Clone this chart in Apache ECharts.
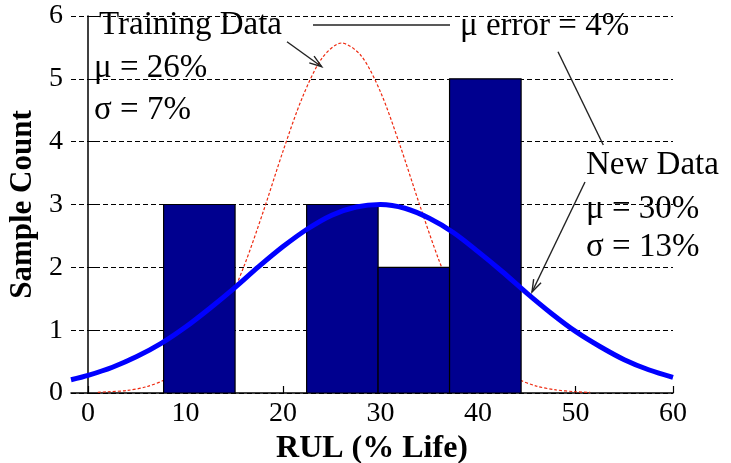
<!DOCTYPE html>
<html>
<head>
<meta charset="utf-8">
<script src="https://cdn.jsdelivr.net/npm/echarts@6/dist/echarts.min.js"></script>
<style>
html,body{margin:0;padding:0;background:#fff;}
#chart{width:731px;height:463px;}
</style>
</head>
<body>
<div id="chart"></div>
<script>
// Histogram of new data: bin edges (% life) and sample counts per bin
var binEdges = [7.75, 15.08, 22.42, 29.75, 37.08, 44.42];
var binCounts = [3, 0, 3, 2, 5];

// Fitted curve, new data (mu = 30%, sigma = 13%)
var newDataX = [-1.75, 0, 2.5, 5, 7.5, 10, 12.5, 15, 17.5, 20, 22.5, 25, 27.5, 30, 32.5, 35, 37.5, 40, 42.5, 45, 47.5, 50, 52.5, 55, 57.5, 60];
var newDataY = [0.21, 0.28, 0.41, 0.58, 0.79, 1.05, 1.35, 1.67, 2.01, 2.33, 2.61, 2.83, 2.96, 3.00, 2.94, 2.78, 2.55, 2.25, 1.93, 1.59, 1.27, 0.98, 0.74, 0.53, 0.37, 0.25];

// Fitted curve, training data (mu = 26%, sigma = 7%)
var trainX = [1, 2, 4, 6, 8, 10, 12, 14, 16, 18, 20, 22, 24, 26, 28, 30, 32, 34, 36, 38, 40, 42, 44, 46, 48, 50, 51.5];
var trainY = [0.01, 0.02, 0.04, 0.10, 0.22, 0.43, 0.78, 1.30, 2.02, 2.90, 3.85, 4.71, 5.33, 5.57, 5.37, 4.79, 3.94, 3.00, 2.11, 1.37, 0.82, 0.45, 0.23, 0.11, 0.05, 0.02, 0.01];

// Axis ticks
var xTicks = [0, 10, 20, 30, 40, 50, 60];
var yTicks = [0, 1, 2, 3, 4, 5, 6];

// Annotation texts
var trainingLabels = ['Training Data', 'μ = 26%', 'σ = 7%'];
var newLabels = ['New Data', 'μ = 30%', 'σ = 13%'];
var errorLabel = 'μ error = 4%';

var SERIF = "'Liberation Serif', 'Times New Roman', serif";
var chart = echarts.init(document.getElementById('chart'), null, {renderer: 'canvas'});

function pairs(xs, ys) { return xs.map(function (x, i) { return [x, ys[i]]; }); }
var binData = binCounts.map(function (c, i) { return [binEdges[i], binEdges[i + 1], c]; });

function textEl(str, x, y, size) {
  return {type: 'text', x: x, y: y, z: 200,
    style: {text: str, font: size + 'px ' + SERIF, fill: '#000', align: 'left', verticalAlign: 'middle'}};
}
function lineEl(x1, y1, x2, y2) {
  return {type: 'line', z: 150, shape: {x1: x1, y1: y1, x2: x2, y2: y2}, style: {stroke: '#222', lineWidth: 1.4}};
}
function headEl(x1, y1, x2, y2) {
  var a = Math.atan2(y2 - y1, x2 - x1), L = 13, w = 0.32;
  return {type: 'polyline', z: 150, shape: {points: [
    [x2 - L * Math.cos(a - w), y2 - L * Math.sin(a - w)], [x2, y2],
    [x2 - L * Math.cos(a + w), y2 - L * Math.sin(a + w)]]},
    style: {stroke: '#222', lineWidth: 1.4, fill: null}};
}

var graphics = [
  textEl(trainingLabels[0], 99, 25.5, 33),
  textEl(trainingLabels[1], 94, 68.5, 33),
  textEl(trainingLabels[2], 94, 110, 33),
  textEl(errorLabel, 460, 26, 33),
  textEl(newLabels[0], 586, 165, 33),
  textEl(newLabels[1], 586, 209, 33),
  textEl(newLabels[2], 586, 247.5, 33),
  lineEl(313, 25, 450, 25),
  lineEl(287, 41.7, 321.7, 66.7), headEl(287, 41.7, 321.7, 66.7),
  lineEl(558, 51.7, 603.3, 145),
  lineEl(585, 182, 532, 292), headEl(585, 182, 532, 292)
];

var option = {
  backgroundColor: '#fff',
  animation: false,
  grid: {left: 71, right: 58, top: 16, bottom: 70, containLabel: false, outerBoundsMode: 'none'},
  xAxis: {
    type: 'value', min: -1.75, max: 60,
    name: 'RUL (% Life)', nameLocation: 'middle', nameGap: 35,
    nameTextStyle: {fontFamily: SERIF, fontWeight: 'bold', fontSize: 32, color: '#000'},
    axisLine: {show: true, onZero: false, lineStyle: {color: '#000', width: 1.5}},
    axisTick: {show: true, inside: true, length: 7, customValues: xTicks, lineStyle: {color: '#000', width: 1.2}},
    axisLabel: {customValues: xTicks, fontFamily: SERIF, fontSize: 28, color: '#000', margin: 7},
    splitLine: {show: false}
  },
  yAxis: {
    type: 'value', min: yTicks[0], max: yTicks[yTicks.length - 1], interval: 1,
    name: 'Sample Count', nameLocation: 'middle', nameGap: 26, nameRotate: 90,
    nameTextStyle: {fontFamily: SERIF, fontWeight: 'bold', fontSize: 31, color: '#000'},
    axisLine: {show: true, lineStyle: {color: '#000', width: 1.5}},
    axisTick: {show: true, inside: true, length: 7, lineStyle: {color: '#000'}},
    axisLabel: {fontFamily: SERIF, fontSize: 28, color: '#000', margin: 8},
    splitLine: {show: true, lineStyle: {color: '#000', width: 1, type: [5, 3]}}
  },
  series: [
    {
      name: 'Training Data', type: 'line', data: pairs(trainX, trainY), smooth: 0.3,
      showSymbol: false, z: 1, clip: true,
      lineStyle: {color: '#ee2a10', width: 1.2, type: [3, 2]}
    },
    {
      name: 'Histogram', type: 'custom', data: binData, z: 2, clip: true,
      encode: {x: [0, 1], y: 2},
      renderItem: function (params, api) {
        var c = api.value(2);
        if (!c) return null;
        var p0 = api.coord([api.value(0), 0]);
        var p1 = api.coord([api.value(1), c]);
        return {type: 'rect', shape: {x: p0[0], y: p1[1], width: p1[0] - p0[0], height: p0[1] - p1[1]},
          style: {fill: '#00008f', stroke: '#000', lineWidth: 1.2}};
      }
    },
    {
      name: 'New Data', type: 'line', data: pairs(newDataX, newDataY), smooth: 0.3,
      showSymbol: false, z: 3, clip: true,
      lineStyle: {color: '#0000ff', width: 5}
    }
  ],
  graphic: graphics
};
chart.setOption(option);
</script>
</body>
</html>
